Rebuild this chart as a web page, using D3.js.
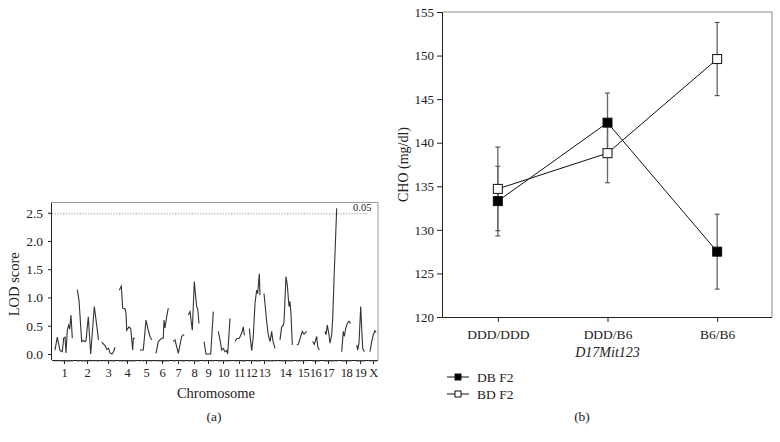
<!DOCTYPE html>
<html><head><meta charset="utf-8">
<script src="https://cdn.jsdelivr.net/npm/d3@7"></script>
<style>
body{margin:0;background:#fff;}
svg text{font-family:"Liberation Serif","DejaVu Serif",serif;fill:#222;}
</style></head>
<body>
<script>
// ---------- Panel (a) data: LOD profile (cumulative map position, LOD) ----------
const chromosomes = ["1","2","3","4","5","6","7","8","9","10","11","12","13","14","15","16","17","18","19","X"];
const chromCenters = [12,35,56,75,94,110,126,142,156,171,187,199,212,233,251,263,276,294,308,321];
const lodTicks = [0.0,0.5,1.0,1.5,2.0,2.5];
const threshold = 2.48;
const thresholdLabel = "0.05";
const lodSegments = [
 [[3,0.07],[5.3,0.3],[8,0.06],[10.3,0.04],[11.7,0.28],[13,0.3],[14,0.02],[15.3,0.42],[16.7,0.51],[17.7,0.44],[19,0.69],[20.3,0.28]],
 [[25.3,1.14],[27,0.95],[29.7,0.22],[31,0.24],[33,0.22],[34,0.23],[36.3,0.66],[38.7,0.0],[42.3,0.84],[44.7,0.51],[46.5,0.25]],
 [[49.7,0.21],[53,0.15],[55,0.08],[56.5,0.1],[58,0.02],[60,0.0],[61.5,0.04],[63,0.12]],
 [[67.3,1.13],[69.3,1.2],[70.7,0.81],[73,0.8],[74,0.72],[74.7,0.42],[77,0.48],[78.7,0.45],[80.7,0.07],[81.3,0.28],[83,0.28]],
 [[88,0.07],[91.3,0.07],[94,0.6],[96.3,0.42],[98,0.31],[99.7,0.25]],
 [[104,0.01],[106.3,0.22],[108,0.25],[109.7,0.28],[111.3,0.28],[112,0.6],[113,0.46],[114.7,0.66],[116.3,0.81]],
 [[121.3,0.22],[123,0.25],[126.3,0.01],[129.7,0.31],[131.3,0.34],[132.3,0.34]],
 [[136.3,0.69],[138,0.75],[140.3,0.42],[142.3,1.28],[143.7,1.01],[144.7,0.84],[145.7,0.8],[147,0.54]],
 [[152,0.22],[154,0.0],[158.7,0.0],[161.3,0.75]],
 [[166.3,0.4],[168,0.25],[169.7,0.07],[171.3,0.1],[173,0.04],[174.7,0.06],[175.7,0.0],[178,0.63]],
 [[183,0.22],[184.7,0.27],[187.3,0.28],[189.7,0.37],[191.3,0.48],[192.3,0.34],[193,0.34]],
 [[197.3,0.45],[199.7,0.06],[201.3,0.31],[203,0.9],[204.7,1.13],[205.7,1.07],[207.3,1.42],[208,1.04]],
 [[212,1.07],[214.7,0.57],[216.3,0.34],[218,0.22],[219.7,0.4],[220.7,0.25],[223,0.1]],
 [[228,0.25],[229.7,0.48],[231.3,0.51],[232,0.57],[234,1.37],[235.3,1.22],[237,0.84],[238,0.93],[239,0.7],[240.3,0.16]],
 [[244.7,0.16],[246.3,0.17],[248.7,0.31],[250.3,0.4],[252,0.35],[254.7,0.4]],
 [[260.7,0.22],[262.3,0.17],[264.7,0.31],[265.7,0.13],[267.3,0.07]],
 [[273,0.4],[274,0.34],[275.3,0.51],[277,0.34],[278,0.19],[279.7,0.34],[280.7,0.63],[282.3,1.46],[284.7,2.58]],
 [[289.7,0.04],[291.3,0.4],[292.3,0.31],[293.7,0.45],[295.3,0.54],[297,0.58],[298.7,0.54]],
 [[304.7,0.16],[305.7,0.07],[307,0.19],[308.7,0.84],[309.7,0.45],[310.7,0.1],[312.3,0.04]],
 [[318,0.04],[319.7,0.22],[321.3,0.34],[323,0.41],[324,0.38]]
];

// ---------- Panel (b) data ----------
const genotypes = ["DDD/DDD","DDD/B6","B6/B6"];
const seriesNames = ["DB F2","BD F2"];
const dbMeans = [133.3,142.3,127.5];
const dbErr = [4.0,3.4,4.3];
const bdMeans = [134.7,138.8,149.6];
const bdErr = [4.8,3.4,4.2];
const choTicks = [120,125,130,135,140,145,150,155];

const W=780,H=442;
const svg=d3.select("body").append("svg").attr("width",W).attr("height",H);

// ================= Panel (a) =================
const ax={l:52,r:378,t:202.5,b:360};
const xA=d3.scaleLinear().domain([0,326]).range([ax.l,ax.r]);
const yA=d3.scaleLinear().domain([-0.106,2.68]).range([ax.b,ax.t]);
const gA=svg.append("g");
gA.append("path").attr("d",`M${ax.l},${ax.t}H${ax.r}V${ax.b}`).attr("fill","none").attr("stroke","#999").attr("stroke-width",1);
gA.append("line").attr("x1",ax.l-3).attr("x2",xA(315)).attr("y1",yA(threshold)).attr("y2",yA(threshold))
  .attr("stroke","#777").attr("stroke-width",0.8).attr("stroke-dasharray","1.2,1.6");
gA.append("text").attr("x",xA(301)).attr("y",yA(threshold)-3).attr("font-size",10.5).text(thresholdLabel);
const yAxisA=d3.axisLeft(yA).tickValues(lodTicks).tickSize(4).tickPadding(5).tickFormat(d3.format(".1f"));
const ga=gA.append("g").attr("transform",`translate(${ax.l},0)`).call(yAxisA);
ga.select(".domain").attr("d",`M-0.5,${ax.t}V${ax.b}`).attr("stroke","#222");
ga.selectAll("text").attr("font-size",13.5).attr("font-family","Liberation Serif").attr("fill","#222");
ga.selectAll("line").attr("stroke","#222");
const xAxisA=d3.axisBottom(xA).tickValues(chromCenters).tickSize(4).tickPadding(4).tickFormat((d,i)=>chromosomes[i]);
const gb=gA.append("g").attr("transform",`translate(0,${ax.b})`).call(xAxisA);
gb.select(".domain").attr("d",`M${ax.l},0.5H${ax.r}`).attr("stroke","#222");
gb.selectAll("text").attr("font-size",12.5).attr("letter-spacing",-0.4).attr("font-family","Liberation Serif").attr("fill","#222");
gb.selectAll("line").attr("stroke","#222");
const allPts=lodSegments.flat();
gA.append("g").selectAll("line").data(allPts).join("line")
  .attr("x1",d=>xA(d[0])).attr("x2",d=>xA(d[0])).attr("y1",ax.b).attr("y2",ax.b+2)
  .attr("stroke","#555").attr("stroke-width",0.7);
const lineA=d3.line().x(d=>xA(d[0])).y(d=>yA(d[1]));
gA.append("g").selectAll("path").data(lodSegments).join("path")
  .attr("d",lineA).attr("fill","none").attr("stroke","#333").attr("stroke-width",1.1);
gA.append("text").attr("transform",`translate(19,${(ax.t+ax.b)/2+3}) rotate(-90)`).attr("text-anchor","middle").attr("font-size",14.5).text("LOD score");
gA.append("text").attr("x",216).attr("y",398).attr("text-anchor","middle").attr("font-size",14.5).text("Chromosome");
gA.append("text").attr("x",214).attr("y",421).attr("text-anchor","middle").attr("font-size",13.5).text("(a)");

// ================= Panel (b) =================
const bx={l:443,r:772,t:12,b:317};
const xB=d3.scalePoint().domain(genotypes).range([bx.l,bx.r]).padding(0.5);
const yB=d3.scaleLinear().domain([120,155]).range([bx.b,bx.t]);
const gB=svg.append("g");
gB.append("path").attr("d",`M${bx.l},${bx.t}H${bx.r}V${bx.b}`).attr("fill","none").attr("stroke","#888").attr("stroke-width",1);
const yAxisB=d3.axisLeft(yB).tickValues(choTicks).tickSize(6).tickPadding(3);
const gy=gB.append("g").attr("transform",`translate(${bx.l},0)`).call(yAxisB);
gy.select(".domain").attr("d",`M-0.5,${bx.t}V${bx.b}`).attr("stroke","#222");
gy.selectAll("text").attr("font-size",13).attr("font-family","Liberation Serif").attr("fill","#222");
gy.selectAll("line").attr("stroke","#222");
const xAxisB=d3.axisBottom(xB).tickSize(5).tickPadding(7);
const gx=gB.append("g").attr("transform",`translate(0,${bx.b})`).call(xAxisB);
gx.select(".domain").attr("d",`M${bx.l-6},0.5H${bx.r}`).attr("stroke","#222");
gx.selectAll("text").attr("font-size",13.5).attr("font-family","Liberation Serif").attr("fill","#222");
gx.selectAll("line").attr("stroke","#222");

const series=[
 {name:seriesNames[0],m:dbMeans,e:dbErr,fill:"#000"},
 {name:seriesNames[1],m:bdMeans,e:bdErr,fill:"#fff"}
];
series.forEach(s=>{
  const g=gB.append("g");
  genotypes.forEach((c,i)=>{
    const x=xB(c), y1=yB(s.m[i]-s.e[i]), y2=yB(s.m[i]+s.e[i]);
    g.append("line").attr("x1",x).attr("x2",x).attr("y1",y1).attr("y2",y2).attr("stroke","#666").attr("stroke-width",1.3);
    [y1,y2].forEach(yy=>g.append("line").attr("x1",x-2.5).attr("x2",x+2.5).attr("y1",yy).attr("y2",yy).attr("stroke","#444").attr("stroke-width",1));
  });
});
const lineB=d3.line().x((d,i)=>xB(genotypes[i])).y(d=>yB(d));
series.forEach(s=>{
  gB.append("path").attr("d",lineB(s.m)).attr("fill","none").attr("stroke","#111").attr("stroke-width",1);
});
series.forEach(s=>{
  gB.append("g").selectAll("rect").data(s.m).join("rect")
   .attr("x",(d,i)=>xB(genotypes[i])-4.5).attr("y",d=>yB(d)-4.5).attr("width",9).attr("height",9)
   .attr("fill",s.fill).attr("stroke","#111").attr("stroke-width",1);
});
gB.append("text").attr("transform",`translate(408,${(bx.t+bx.b)/2}) rotate(-90)`).attr("text-anchor","middle").attr("font-size",14).text("CHO (mg/dl)");
gB.append("text").attr("x",xB(genotypes[1])).attr("y",357).attr("text-anchor","middle").attr("font-size",14).attr("font-style","italic").text("D17Mit123");
series.forEach((s,i)=>{
  const y=377+i*17;
  gB.append("line").attr("x1",447).attr("x2",469).attr("y1",y).attr("y2",y).attr("stroke","#111").attr("stroke-width",1);
  gB.append("rect").attr("x",455).attr("y",y-3).attr("width",6).attr("height",6).attr("fill",s.fill).attr("stroke","#111").attr("stroke-width",1);
  gB.append("text").attr("x",477).attr("y",y+4.5).attr("font-size",13.5).text(s.name);
});
gB.append("text").attr("x",582).attr("y",421).attr("text-anchor","middle").attr("font-size",13.5).text("(b)");
</script>
</body></html>
